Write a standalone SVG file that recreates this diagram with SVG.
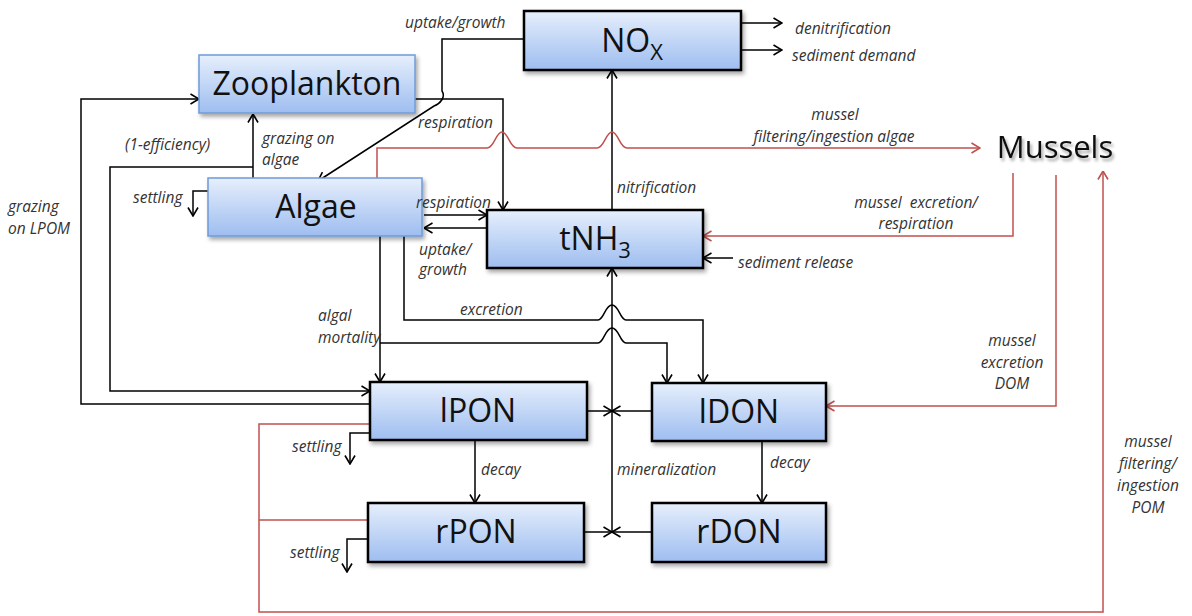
<svg xmlns="http://www.w3.org/2000/svg" width="1192" height="616" viewBox="0 0 1192 616">
<defs>
<linearGradient id="g" x1="0" y1="0" x2="0" y2="1">
<stop offset="0" stop-color="#e6effc"/>
<stop offset="1" stop-color="#9ebdf0"/>
</linearGradient>
<filter id="sh" x="-10%" y="-20%" width="125%" height="150%">
<feDropShadow dx="2" dy="3" stdDeviation="2" flood-color="#000" flood-opacity="0.35"/>
</filter>
<filter id="tsh" x="-10%" y="-20%" width="125%" height="150%">
<feDropShadow dx="2" dy="3" stdDeviation="1.8" flood-color="#000" flood-opacity="0.35"/>
</filter>
<marker id="ab" viewBox="0 0 10 12" refX="9.5" refY="6" markerWidth="10" markerHeight="12" markerUnits="userSpaceOnUse" orient="auto">
<path d="M1,1 L9.5,6 L1,11" fill="none" stroke="#000" stroke-width="1.6"/>
</marker>
<marker id="ar" viewBox="0 0 10 12" refX="9.5" refY="6" markerWidth="10" markerHeight="12" markerUnits="userSpaceOnUse" orient="auto">
<path d="M1,1 L9.5,6 L1,11" fill="none" stroke="#c0504d" stroke-width="1.6"/>
</marker>
<style>
.box{fill:url(#g);stroke:#000;stroke-width:2.5;filter:url(#sh)}
.bbox{fill:url(#g);stroke:#6f9bd8;stroke-width:1.5;filter:url(#sh)}
.bt{font-family:"Open Sans","Liberation Sans",sans-serif;font-size:32px;fill:#111;text-anchor:middle}
.sub{font-size:22px}
.c{fill:none;stroke:#000;stroke-width:1.5}
.ca{fill:none;stroke:#000;stroke-width:1.5;marker-end:url(#ab)}
.r{fill:none;stroke:#c0504d;stroke-width:1.5}
.ra{fill:none;stroke:#c0504d;stroke-width:1.5;marker-end:url(#ar)}
.lb{font-family:"Open Sans","Liberation Sans",sans-serif;font-style:italic;font-size:15.5px;fill:#333}
.m{text-anchor:middle}
</style>
</defs>
<rect width="1192" height="616" fill="#fff"/>

<g id="connectors">
<path class="ca" d="M370,404 H81 V99 H199"/>
<path class="ca" d="M253,167 H110 V391 H370"/>
<path class="ca" d="M253,178 V114"/>
<path class="ca" d="M208,191 H193 V216"/>
<path class="ca" d="M524,39 H442 V91 C446,97 440,104 434,106 L318,181"/>
<path class="ca" d="M415,99 H503 V210"/>
<path class="ca" d="M424,215 H487"/>
<path class="ca" d="M487,228 H424"/>
<path class="ca" d="M612,210 V70"/>
<path class="ca" d="M612,532 V268"/>
<path class="ca" d="M587,411 H612"/>
<path class="ca" d="M652,411 H612"/>
<path class="ca" d="M584,532 H612"/>
<path class="ca" d="M652,532 H612"/>
<path class="ca" d="M380,236 V382"/>
<path class="ca" d="M380,343 H598 C604,343 605,328 612,328 C619,328 620,343 626,343 H667 V383"/>
<path class="ca" d="M404,236 V320 H598 C604,320 605,305 612,305 C619,305 620,320 626,320 H703 V383"/>
<path class="ca" d="M475,440 V503"/>
<path class="ca" d="M762,441 V503"/>
<path class="ca" d="M370,433 H350 V464"/>
<path class="ca" d="M368,539 H347 V572"/>
<path class="ca" d="M741,23 H782"/>
<path class="ca" d="M741,50 H782"/>
<path class="ca" d="M733,258 H703"/>
<path class="ra" d="M377,179 V148 H487 C494,148 496,132 502,132 C508,132 510,148 517,148 H597 C604,148 606,132 612,132 C618,132 620,148 627,148 H980"/>
<path class="ra" d="M1013,173 V236 H703"/>
<path class="ra" d="M1056,175 V406 H826"/>
<path class="ra" d="M370,424 H259 V612 H1103 V171"/>
<path class="r" d="M368,520 H259"/>
</g>

<g id="zooplankton"><rect class="bbox" x="199" y="55" width="216" height="58"/><text class="bt" x="307" y="95">Zooplankton</text></g>
<g id="algae"><rect class="bbox" x="208" y="178" width="214" height="58"/><text class="bt" x="316" y="218">Algae</text></g>
<g id="nox"><rect class="box" x="524" y="11" width="217" height="59"/><text class="bt" x="632" y="52">NO<tspan class="sub" dy="8">X</tspan></text></g>
<g id="tnh3"><rect class="box" x="487" y="210" width="216" height="58"/><text class="bt" x="595" y="250">tNH<tspan class="sub" dy="8">3</tspan></text></g>
<g id="lpon"><rect class="box" x="370" y="382" width="217" height="58"/><text class="bt" x="478" y="422">lPON</text></g>
<g id="ldon"><rect class="box" x="652" y="383" width="174" height="58"/><text class="bt" x="739" y="423">lDON</text></g>
<g id="rpon"><rect class="box" x="368" y="503" width="216" height="59"/><text class="bt" x="476" y="543">rPON</text></g>
<g id="rdon"><rect class="box" x="652" y="503" width="174" height="59"/><text class="bt" x="739" y="543">rDON</text></g>
<g id="mussels"><text x="1055" y="158" font-family="Open Sans, Liberation Sans, sans-serif" font-size="31" fill="#111" text-anchor="middle" filter="url(#tsh)">Mussels</text></g>

<g id="labels">
<text class="lb" x="405" y="28">uptake/growth</text>
<text class="lb" x="795" y="34">denitrification</text>
<text class="lb" x="792" y="61">sediment demand</text>
<text class="lb" x="418" y="128">respiration</text>
<text class="lb m" x="835" y="120">mussel</text>
<text class="lb m" x="834" y="142">filtering/ingestion algae</text>
<text class="lb" x="125" y="150">(1-efficiency)</text>
<text class="lb" x="262" y="144">grazing on</text>
<text class="lb" x="262" y="165">algae</text>
<text class="lb" x="133" y="203">settling</text>
<text class="lb" x="8" y="212">grazing</text>
<text class="lb" x="8" y="234">on LPOM</text>
<text class="lb" x="416" y="208">respiration</text>
<text class="lb" x="617" y="193">nitrification</text>
<text class="lb m" x="916" y="208" xml:space="preserve" style="white-space:pre">mussel  excretion/</text>
<text class="lb m" x="916" y="229">respiration</text>
<text class="lb" x="419" y="255">uptake/</text>
<text class="lb" x="419" y="275">growth</text>
<text class="lb" x="738" y="268">sediment release</text>
<text class="lb" x="318" y="321">algal</text>
<text class="lb" x="318" y="343">mortality</text>
<text class="lb" x="460" y="315">excretion</text>
<text class="lb m" x="1012" y="346">mussel</text>
<text class="lb m" x="1012" y="368">excretion</text>
<text class="lb m" x="1012" y="389">DOM</text>
<text class="lb" x="292" y="452">settling</text>
<text class="lb" x="481" y="475">decay</text>
<text class="lb" x="617" y="475">mineralization</text>
<text class="lb" x="770" y="468">decay</text>
<text class="lb" x="290" y="558">settling</text>
<text class="lb m" x="1148" y="447">mussel</text>
<text class="lb m" x="1148" y="469">filtering/</text>
<text class="lb m" x="1148" y="491">ingestion</text>
<text class="lb m" x="1148" y="513">POM</text>
</g>
</svg>
